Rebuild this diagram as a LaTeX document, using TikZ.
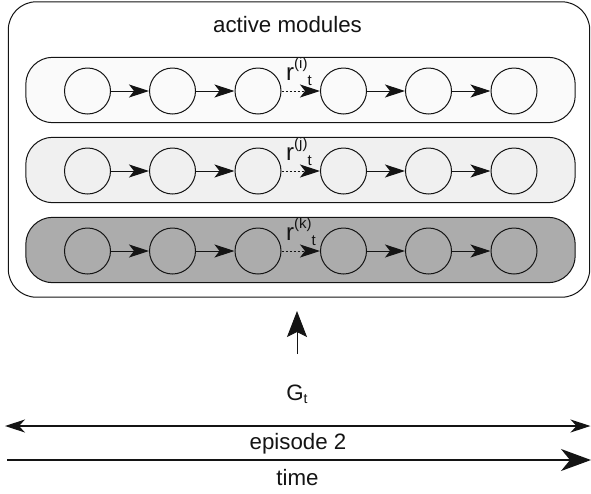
\documentclass[tikz,border=0pt]{standalone}
\usepackage{fontspec}
\setmainfont{Liberation Sans}
\usetikzlibrary{arrows.meta,calc}

\definecolor{rowA}{RGB}{250,250,250}
\definecolor{rowB}{RGB}{240,240,240}
\definecolor{rowC}{RGB}{172,172,172}
\definecolor{ink}{RGB}{20,20,20}

\newcommand{\rlab}[1]{{\fontsize{24}{24}\selectfont r}{\fontsize{15}{15}\selectfont\raisebox{12pt}{(#1)}\raisebox{-5pt}{t}}}

\tikzset{
  txt/.style={font=\fontsize{22.3}{26}\selectfont, inner sep=0pt, text=ink},
  unit/.style={circle, draw=ink, line width=1pt, minimum size=46pt, inner sep=0pt},
  band/.style={minimum width=549pt, minimum height=65pt, inner sep=0pt},
  link/.style={draw=ink, line width=1pt, -{Stealth[length=20pt,width=13pt,inset=5pt]}},
  dlink/.style={link, dash pattern=on 2pt off 2pt},
}

\begin{document}
\begin{tikzpicture}[x=1pt,y=-1pt]
  \useasboundingbox (0,0) rectangle (591,493);

  % container of the active modules
  \node[minimum width=581pt, minimum height=295pt, inner sep=0pt] (outer) at (299,149.5) {};
  \draw[ink, line width=1pt, rounded corners=28pt] (outer.south west) rectangle (outer.north east);
  \node[txt, anchor=base] (title) at (287.5,32) {active modules};

  % three module chains
  \foreach \r/\y/\col/\s in {1/90/rowA/i, 2/170/rowB/j, 3/250/rowC/k} {
    \node[band] (row\r) at (300.5,\y) {};
    \draw[ink, fill=\col, line width=1pt, rounded corners=27pt] (row\r.south west) rectangle (row\r.north east);
    \foreach \k/\x in {1/87.5, 2/172.5, 3/258, 4/343.5, 5/428.5, 6/514} {
      \node[unit] (c\r\k) at (\x,\y+1) {};
    }
    \draw[link] (c\r1) -- (c\r2);
    \draw[link] (c\r2) -- (c\r3);
    \draw[dlink] (c\r3) -- (c\r4);
    \draw[link] (c\r4) -- (c\r5);
    \draw[link] (c\r5) -- (c\r6);
    \node[txt, anchor=base west] (lab\r) at ($(c\r3.east)+(4.5,-11)$) {\rlab{\s}};
  }

  % goal signal
  \node[txt, anchor=base] (goal) at (297,400) {G{\fontsize{14}{14}\selectfont\raisebox{-3.5pt}{t}}};
  \coordinate (up-from) at (297,354);
  \coordinate (up-to) at (297,311);
  \draw[ink, line width=1pt, -{Stealth[length=26pt,width=20pt,inset=5pt]}] (up-from) -- (up-to);

  % episode span
  \coordinate (ep-l) at (5,426);
  \coordinate (ep-r) at (590.5,426);
  \draw[ink, line width=1.2pt, {Stealth[length=20pt,width=13pt,inset=6pt]}-{Stealth[length=20pt,width=13pt,inset=6pt]}] (ep-l) -- (ep-r);
  \node[txt, anchor=base] (episode) at (298,449) {episode 2};

  % time axis
  \coordinate (t-l) at (7,460);
  \coordinate (t-r) at (591,460);
  \draw[ink, line width=1.4pt, -{Stealth[length=30pt,width=22pt,inset=9pt]}] (t-l) -- (t-r);
  \node[txt, anchor=base] (time) at (297.5,485) {time};
\end{tikzpicture}
\end{document}
